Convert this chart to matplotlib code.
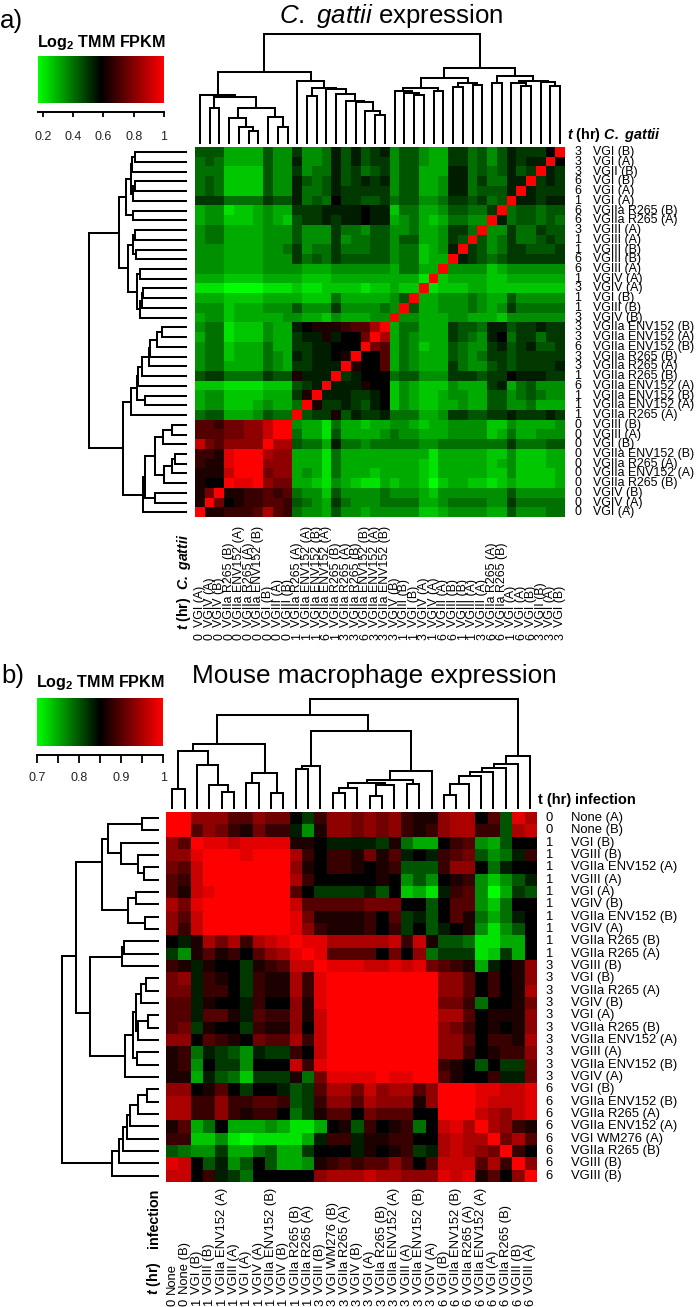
import numpy as np
import matplotlib
matplotlib.use('Agg')
import matplotlib.pyplot as plt
from matplotlib.colors import LinearSegmentedColormap

plt.rcParams['font.family'] = ['Liberation Sans', 'DejaVu Sans']
plt.rcParams['mathtext.fontset'] = 'custom'
plt.rcParams['mathtext.rm'] = 'Liberation Sans'
plt.rcParams['mathtext.it'] = 'Liberation Sans:italic'
plt.rcParams['mathtext.bf'] = 'Liberation Sans:bold'
plt.rcParams['mathtext.bfit'] = 'Liberation Sans:italic:bold'

W, H = 700, 1307

# colour level: 0 bright green ... 9 black ... I full red
LEVELS = '0123456789ABCDEFGHI'

rows_a = [
    "666 3333 6 44 7 445 8 68678 4 66 433 77 56 46 8 777 9 I",
    "565 3333 6 44 8 445 8 68677 4 66 433 77 56 46 8 788 I 9",
    "555 2222 6 44 7 455 8 67567 4 66 333 88 56 56 8 67 I 87",
    "565 2222 6 44 8 656 8 67878 4 66 334 88 57 55 8 8 I 787",
    "565 2222 6 44 8 556 8 77777 4 66 334 88 56 66 8 I 8777",
    "777 5555 7 66 8 565 9 77667 5 66 445 77 67 56 I 88788",
    "344 1223 4 33 7 778 8 88988 2 55 334 66 55 7 I 5 66566",
    "344 2223 4 32 6 778 7 88988 3 45 323 55 44 I 8 5 66565",
    "455 3333 4 44 6 444 7 55466 4 45 334 77 5 I 44 7 55766",
    "455 3333 4 44 6 444 7 45566 4 66 334 76 I 6 45 7 55676",
    "444 3333 4 45 7 455 7 55566 4 55 234 8 I 76 45 7 76667",
    "444 3333 4 44 7 565 7 66666 4 55 233 I 8 76 56 7 77777",
    "444 3333 4 44 4 333 4 44444 3 55 33 I 44 44 23 4 44444",
    "333 2222 3 33 3 222 3 33333 3 33 1 I 2 33 33 22 3 33333",
    "111 0000 1 11 2 112 2 22122 3 22 I 12 22 33 22 2 22222",
    "333 2222 3 33 3 222 5 33333 4 6 I 334 44 54 33 6 44444",
    "444 2333 4 44 6 444 7 44445 4 I 6 334 44 54 34 7 55555",
    "344 2333 3 34 4 332 4 33344 I 44 333 44 33 32 4 44444",
    "455 1222 4 33 8 9AA A BCCFI 3 55 333 76 65 88 6 77877",
    "355 1222 4 33 7 88A 8 99DIF 3 54 333 76 54 89 5 77577",
    "455 2333 5 33 7 788 9 99IDC 3 54 233 65 44 78 6 78667",
    "455 2333 5 43 8 788 9 AI99C 3 54 333 65 45 77 6 77777",
    "455 3333 5 43 7 788 8 IA99C 3 54 333 75 44 67 6 77778",
    "677 5555 7 66 A 888 I 78999 5 66 444 77 76 77 9 88877",
    "222 1111 2 22 6 78I 8 88A99 2 43 222 43 33 78 3 56444",
    "344 2222 3 33 7 AI8 8 87789 2 43 223 44 33 66 4 56544",
    "344 2223 4 33 5 IA7 7 87689 2 43 223 34 33 66 4 45333",
    "566 3334 6 55 I 677 A 68778 5 55 334 77 66 77 8 77787",
    "CCB DDEE G II 4 331 5 33233 4 43 233 44 44 22 4 33334",
    "CCC DDEE G II 5 331 6 33334 5 44 333 44 44 23 5 33444",
    "GDC EEEE I FF 6 553 8 55455 5 55 445 55 55 55 7 55566",
    "BBA HIII F EE 3 331 5 33333 3 33 313 33 33 22 4 22233",
    "BAA HIII E EE 3 331 5 33333 3 33 213 33 33 23 4 22233",
    "AAA GIII D EE 3 431 5 33323 3 33 213 33 33 22 4 22223",
    "A99 IHHI E DD 3 321 4 32113 2 33 202 33 22 12 3 22223",
    "ADI AABB C BC 5 442 6 44445 4 44 324 44 44 44 6 44444",
    "AID 9ABB C CB 6 543 7 54445 5 55 334 55 55 44 7 55555",
    "IAA BBBC F CB 5 443 6 44344 4 44 223 44 44 33 6 44455",
]

times_a = ['3', '3', '3', '6', '6', '1', '6', '6', '3', '1', '1', '6', '6', '1', '3', '1', '1', '3',
           '3', '3', '6', '3', '3', '1', '6', '1', '1', '1',
           '0', '0', '0', '0', '0', '0', '0', '0', '0', '0']
names_a = ['VGI (B)', 'VGI (A)', 'VGII (B)', 'VGI (B)', 'VGI (A)', 'VGI (A)',
           'VGIIa R265 (B)', 'VGIIa R265 (A)', 'VGIII (A)', 'VGIII (A)', 'VGIII (B)',
           'VGIII (B)', 'VGIII (A)', 'VGIV (A)', 'VGIV (A)', 'VGI (B)', 'VGIII (B)', 'VGIV (B)',
           'VGIIa ENV152 (B)', 'VGIIa ENV152 (A)', 'VGIIa ENV152 (B)', 'VGIIa R265 (B)',
           'VGIIa R265 (A)', 'VGIIa R265 (B)', 'VGIIa ENV152 (A)', 'VGIIa ENV152 (B)',
           'VGIIa ENV152 (A)', 'VGIIa R265 (A)',
           'VGIII (B)', 'VGIII (A)', 'VGI (B)', 'VGIIa ENV152 (B)', 'VGIIa R265 (A)',
           'VGIIa ENV152 (A)', 'VGIIa R265 (B)', 'VGIV (B)', 'VGIV (A)', 'VGI (A)']

# merges as (height, child, child), leaves are row numbers
a_top = (60, (55, (54, (51, 0, 1), 2), (53, (51, 3, 4), 5)), (53, 6, 7))
a_mid = (58, (53.4, (51.6, 8, 9), (50, 10, 11)),
         (49, (46.5, 12, 13), (46, (44.5, (43, 14, 15), 16), 17)))
a_up = (67, a_top, a_mid)
a_eight = (55, (49, (48, (44, (37.5, (36.5, (28.7, (24.5, 18, 19), 20), 21), 22), 23), 24),
                (41.5, 25, 26)), 27)
a_zero = (43, (41, (31, (23.5, (14.2, 28, 29), 30),
                    (22, (14.2, (10.7, 31, 32), 33), 34)), (31, 35, 36)), 37)
tree_a = (97, a_up, (63, a_eight, a_zero))

rows_b = [
    "I I E E E C C E D D 9 7 B E E D E D E B A A E F F 9 C 6 H F",
    "I I C E D B A D B B 8 4 A E E D E D E B A B E F F B B 6 F G",
    "E C I H H G H H H H A A 9 8 8 8 8 7 A 5 3 3 9 B C 4 3 6 9 9",
    "E E H I I I H I I I F B 9 B B A D A C 8 9 8 B C D 6 4 5 8 B",
    "D C G I I I I I I I E A 9 B B A 9 A B 6 6 6 B E E 9 5 8 9 9",
    "C B G I I I I I I I F B 9 9 9 9 9 A 9 4 6 4 9 A B 4 2 4 6 8",
    "C A G H I I I I I I C 9 7 7 7 7 8 6 9 2 3 1 8 B C 4 0 3 7 6",
    "F D H I I I I I I I G C C C C C D D D 9 9 6 9 C C 4 2 5 9 9",
    "E C G I I I I I I I H D A A A A B 9 C 7 8 6 9 C A 5 3 5 8 9",
    "E B G I I I I I I I H E B A A A B 9 B 7 9 6 8 9 A 4 1 4 6 9",
    "9 8 A F D F B F G H I H H F F F F F G B G A 6 6 5 1 1 3 3 9",
    "7 4 A C A B 9 C E F H I H C C C C 9 D 9 E 5 7 7 7 1 2 7 3 9",
    "B A 8 A 9 9 7 A B C G G I H H H G G H G H D C B A 3 8 9 A E",
    "D E 8 B A 9 7 B A A F B H I I I I I I I I I E E C 9 B 9 A E",
    "D D 8 B B 9 7 B A A F B H I I I I I I I I I E E C 9 B 9 A F",
    "C C 8 A 9 9 8 B 9 9 E A H I I I I I I I I I D D B 5 9 9 A D",
    "C C 8 C C A 8 C B B E A G I I I I I I I I I F F C 9 A A A E",
    "C D 7 A 9 9 7 B A A E 9 G I I I I I I I I I E D B 9 A 9 A E",
    "E E 9 C B A 9 D C C F B G I I I I I I I I I E E C 9 B B A F",
    "A B 5 8 7 6 4 8 7 7 B 9 G I I I I I I I I I E E B 9 A B B E",
    "A B 4 9 7 7 4 9 9 9 G B H I I I I I I I I I B A 9 6 9 7 7 D",
    "A A 3 8 6 5 2 7 7 7 A 5 D H H H H I H H I I C A 9 9 B 8 8 D",
    "E E 9 A C 9 7 9 9 8 6 7 C F F D G E F F C E I I I H H G G H",
    "F F B B E B B C C B 6 7 B E E C F E E E A E I I I H G G G H",
    "F F B B E B A B B 9 5 7 A C C 9 D C C C 9 9 I I I G F E G H",
    "A C 3 5 9 3 3 3 4 3 1 1 3 9 A 6 B 9 A B 5 9 G H F I F E B A",
    "B B 2 2 4 1 0 1 1 1 1 3 8 B B 8 A A B B 9 9 F G F F I D F C",
    "6 5 4 4 7 3 3 5 6 3 3 7 9 9 9 8 A 9 A B 7 8 F G F E D I B 9",
    "H G 9 6 8 4 6 9 6 3 3 4 A B C B C C E C 9 C G G G C F B I E",
    "G G 9 B 8 7 5 9 9 9 9 9 E F F F G F F E E E H G H A C 9 E I",
]

times_b = ['0', '0'] + ['1'] * 10 + ['3'] * 10 + ['6'] * 8
names_b = ['None (A)', 'None (B)', 'VGI (B)', 'VGIII (B)', 'VGIIa ENV152 (A)', 'VGIII (A)', 'VGI (A)',
           'VGIV (B)', 'VGIIa ENV152 (B)', 'VGIV (A)', 'VGIIa R265 (B)', 'VGIIa R265 (A)',
           'VGIII (B)', 'VGI (B)', 'VGIIa R265 (A)', 'VGIV (B)', 'VGI (A)', 'VGIIa R265 (B)',
           'VGIIa ENV152 (A)', 'VGIII (A)', 'VGIIa ENV152 (B)', 'VGIV (A)',
           'VGI (B)', 'VGIIa ENV152 (B)', 'VGIIa R265 (A)', 'VGIIa ENV152 (A)', 'VGI WM276 (A)',
           'VGIIa R265 (B)', 'VGIII (B)', 'VGIII (B)']
col_names_b = ['None', 'None (B)', 'VGI (B)', 'VGIII (B)', 'VGIIa ENV152 (A)', 'VGIII (A)', 'VGI (A)',
               'VGIV (A)', 'VGIIa ENV152 (B)', 'VGIV (B)', 'VGIIa R265 (B)', 'VGIIa R265 (A)',
               'VGIII (B)', 'VGI WM276 (B)', 'VGIIa R265 (A)', 'VGIV (B)', 'VGI (A)', 'VGIIa R265 (B)',
               'VGIIa ENV152 (A)', 'VGIII (A)', 'VGIIa ENV152 (B)', 'VGIV (A)',
               'VGI (B)', 'VGIIa ENV152 (B)', 'VGIIa R265 (A)', 'VGIIa ENV152 (A)', 'VGI (A)',
               'VGIIa R265 (B)', 'VGIII (B)', 'VGIII (A)']

# optional fourth item: where the stem sits between the two children
b_first = (56.7, (50.7, (16.7, 0, 1), (37.7, 2, (20, 3, (14, 4, 5)))),
           (30.7, (22, 6, 7), (13, 8, 9)), 0.33)
b_second = (68, (36.7, (34, 10, 11), 12),
            (33, (25, (22, (17.7, (12.7, 13, 14), 15), (20, (10, 16, 17), 18)), (21, 19, 20)), 21), 0.57)
b_third = (46, (39, (35.7, (31.7, (28, (20.7, (11.7, 22, 23), 24), 25), 26), 27), 28), 29)
tree_b = (96.7, (82.7, b_first, b_second, 0.62), b_third)

cmap = LinearSegmentedColormap.from_list('gbr', ['#00ff00', '#000000', '#ff0000'])


def px_axes(fig, left, top, right, bottom):
    return fig.add_axes([left / W, 1 - bottom / H, (right - left) / W, (bottom - top) / H])


def decode(rows, vmin, vmax):
    idx = [[LEVELS.index(ch) for ch in r.replace(' ', '')] for r in rows]
    return vmin + (vmax - vmin) * np.array(idx) / 18.0


def draw_tree(ax, node, top):
    # returns position and height of the node
    if not isinstance(node, tuple):
        return node + 0.5, 0
    h, a, b = node[:3]
    frac = node[3] if len(node) > 3 else 0.5
    pa, ha = draw_tree(ax, a, top)
    pb, hb = draw_tree(ax, b, top)
    hs = [ha, h, h, hb]
    ps = [pa, pa, pb, pb]
    if top:
        ax.plot(ps, hs, color='k', lw=1.45, clip_on=False, solid_joinstyle='miter')
    else:
        ax.plot(hs, ps, color='k', lw=1.45, clip_on=False, solid_joinstyle='miter')
    return pa + frac * (pb - pa), h


def colour_key(fig, box, vmin, vmax, ticks, labels, drop, tick_len, pad):
    cax = px_axes(fig, *box)
    grad = np.linspace(vmin, vmax, 256).reshape(1, -1)
    cax.imshow(grad, cmap=cmap, vmin=vmin, vmax=vmax, aspect='auto', extent=(vmin, vmax, 0, 1))
    cax.set_yticks([])
    for s in ['top', 'left', 'right']:
        cax.spines[s].set_visible(False)
    cax.spines['bottom'].set_position(('outward', drop))
    cax.spines['bottom'].set_linewidth(1.4)
    cax.set_xticks(ticks)
    cax.set_xticklabels(labels, fontsize=9, color='#222222')
    cax.tick_params(axis='x', length=tick_len, width=1.3, pad=pad)
    return cax


fig = plt.figure(figsize=(W / 100, H / 100), dpi=100)
fig.patch.set_facecolor('white')

# panel a
ax_a = px_axes(fig, 195, 147.3, 565, 517.3)
vmin_a, vmax_a = 0.171, 1.0
mat_a = decode(rows_a, vmin_a, vmax_a)
n_a = mat_a.shape[0]
ax_a.imshow(mat_a, cmap=cmap, vmin=vmin_a, vmax=vmax_a, aspect='auto', extent=(0, n_a, n_a, 0),
            interpolation='nearest')
ax_a.axis('off')

left_a = px_axes(fig, 89.3, 147.3, 186, 517.3)
left_a.set_xlim(tree_a[0], 0)
left_a.set_ylim(n_a, 0)
draw_tree(left_a, tree_a, False)
left_a.axis('off')

top_a = px_axes(fig, 195, 34, 565, 143)
top_a.set_ylim(0, tree_a[0])
top_a.set_xlim(n_a, 0)
draw_tree(top_a, tree_a, True)
top_a.axis('off')

for r in range(n_a):
    ax_a.text(1.0344, r + 0.5, times_a[r], transform=ax_a.get_yaxis_transform(), ha='center', va='center', fontsize=8.9)
    ax_a.text(1.0770, r + 0.5, names_a[r], transform=ax_a.get_yaxis_transform(), ha='left', va='center', fontsize=8.9)
    c = n_a - 1 - r
    ax_a.text(c + 0.5, -0.3216, times_a[r], transform=ax_a.get_xaxis_transform(), ha='center', va='center', rotation=90, fontsize=8.9)
    ax_a.text(c + 0.5, -0.2975, names_a[r], transform=ax_a.get_xaxis_transform(), ha='center', va='bottom', rotation=90, fontsize=8.9)

fig.text(391 / W, 1 - 23 / H, r'$\mathit{C.\ gattii}$ expression', ha='center', va='baseline', fontsize=18.6)
fig.text(0 / W, 1 - 28 / H, 'a)', ha='left', va='baseline', fontsize=18.6)
fig.text(101 / W, 1 - 46.7 / H, r'Log$_{\mathbf{2}}$ TMM FPKM', ha='center', va='baseline', fontsize=11.6, fontweight='bold')
fig.text(567 / W, 1 - 139 / H, r'$\mathbfit{t}$ (hr) $\mathbfit{C.\ gattii}$', ha='left', va='baseline', fontsize=10.4, fontweight='bold')
fig.text(184 / W, 1 - 630 / H, r'$\mathbfit{t}$ (hr)  $\mathbfit{C.\ gattii}$', ha='center', va='bottom', rotation=90, fontsize=10.2, fontweight='bold')

colour_key(fig, (38.3, 56, 164, 102.7), vmin_a, vmax_a, [0.2, 0.4, 0.6, 0.8, 1.0],
           ['0.2', '0.4', '0.6', '0.8', '1'], 6.8, 3.4, 10.5)

# panel b
ax_b = px_axes(fig, 166, 811.7, 536.5, 1181.7)
vmin_b, vmax_b = 0.7, 1.0
mat_b = decode(rows_b, vmin_b, vmax_b)
n_b = mat_b.shape[0]
ax_b.imshow(mat_b, cmap=cmap, vmin=vmin_b, vmax=vmax_b, aspect='auto', extent=(0, n_b, n_b, 0),
            interpolation='nearest')
ax_b.axis('off')

left_b = px_axes(fig, 61.7, 811.7, 158.3, 1181.7)
left_b.set_xlim(tree_b[0], 0)
left_b.set_ylim(n_b, 0)
draw_tree(left_b, tree_b, False)
left_b.axis('off')

top_b = px_axes(fig, 166, 699, 536.5, 807.7)
top_b.set_ylim(0, tree_b[0])
top_b.set_xlim(0, n_b)
draw_tree(top_b, tree_b, True)
top_b.axis('off')

for r in range(n_b):
    ax_b.text(1.0337, r + 0.5, times_b[r], transform=ax_b.get_yaxis_transform(), ha='center', va='center', fontsize=9.4)
    ax_b.text(1.0918, r + 0.5, names_b[r], transform=ax_b.get_yaxis_transform(), ha='left', va='center', fontsize=9.4)
    ax_b.text(r + 0.5, -0.3262, times_b[r], transform=ax_b.get_xaxis_transform(), ha='center', va='center', rotation=90, fontsize=9.4)
    ax_b.text(r + 0.5, -0.3022, col_names_b[r], transform=ax_b.get_xaxis_transform(), ha='center', va='bottom', rotation=90, fontsize=9.4)

fig.text(374.5 / W, 1 - 683 / H, 'Mouse macrophage expression', ha='center', va='baseline', fontsize=18.8)
fig.text(1 / W, 1 - 683 / H, 'b)', ha='left', va='baseline', fontsize=18.6)
fig.text(100 / W, 1 - 687 / H, r'Log$_{\mathbf{2}}$ TMM FPKM', ha='center', va='baseline', fontsize=11.6, fontweight='bold')
fig.text(538 / W, 1 - 804 / H, 't (hr)', ha='left', va='baseline', fontsize=10.5, fontweight='bold')
fig.text(575 / W, 1 - 804 / H, 'infection', ha='left', va='baseline', fontsize=10.5, fontweight='bold')
fig.text(154 / W, 1 - 1295 / H, r'$\mathbfit{t}$ (hr)', ha='center', va='bottom', rotation=90, fontsize=10.3, fontweight='bold')
fig.text(154 / W, 1 - 1248 / H, 'infection', ha='center', va='bottom', rotation=90, fontsize=10.3, fontweight='bold')

colour_key(fig, (37.3, 698.3, 163.3, 745.7), vmin_b, vmax_b, [0.7, 0.75, 0.8, 0.85, 0.9, 0.95, 1.0],
           ['0.7', '', '0.8', '', '0.9', '', '1'], 6.8, 5.8, 6.5)

fig.savefig('out.png', dpi=100)
